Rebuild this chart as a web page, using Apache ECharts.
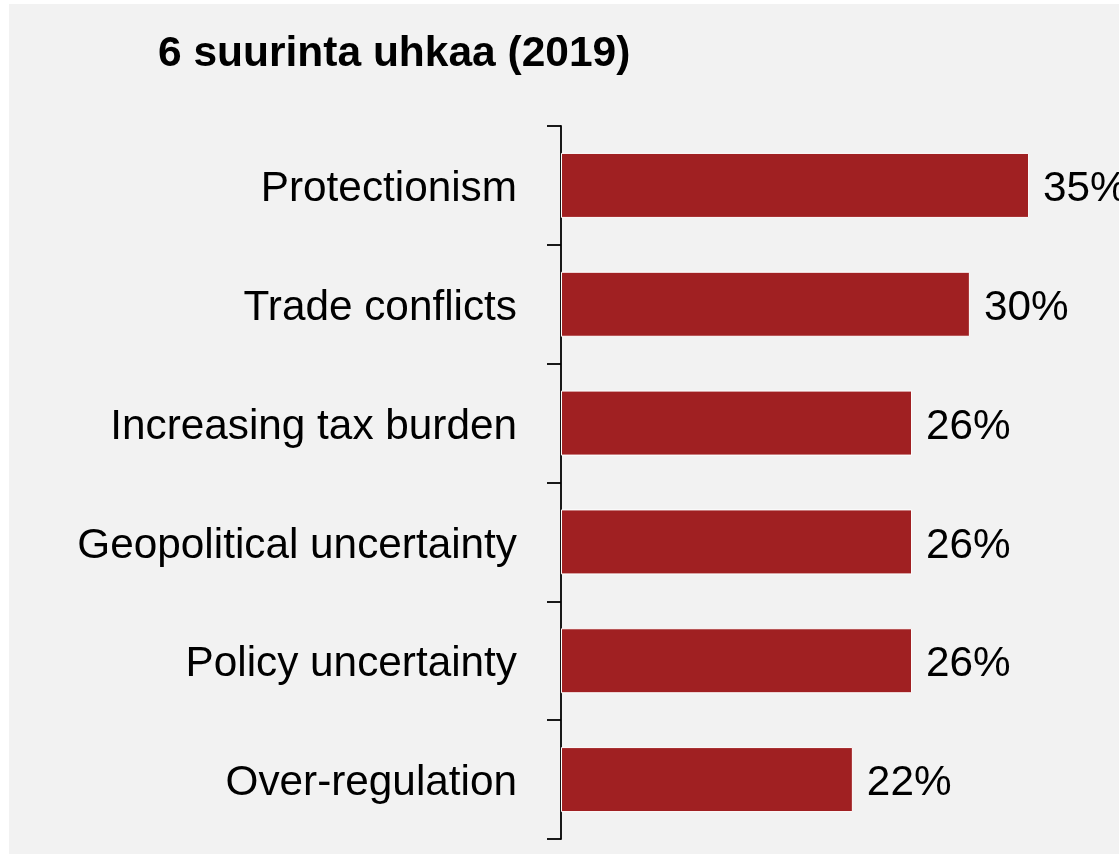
<!DOCTYPE html>
<html>
<head>
<meta charset="utf-8">
<script src="https://cdn.jsdelivr.net/npm/echarts@6/dist/echarts.min.js"></script>
<style>
  html, body { margin: 0; padding: 0; background: #ffffff; }
  #chart { position: absolute; left: 9px; top: 4px; width: 1110px; height: 850px; background: #f2f2f2; }
</style>
</head>
<body>
<div id="chart"></div>
<script>
// 6 suurinta uhkaa (2019)
var categories = [
  "Protectionism",
  "Trade conflicts",
  "Increasing tax burden",
  "Geopolitical uncertainty",
  "Policy uncertainty",
  "Over-regulation"
];
var shares = [34.8, 30.4, 26.1, 26.1, 26.1, 21.7]; // %

var myChart = echarts.init(document.getElementById("chart"));
var font = "'Liberation Sans', Arial, sans-serif";
var option = {
  backgroundColor: "#f2f2f2",
  title: {
    text: "6 suurinta uhkaa (2019)",
    left: 149,
    top: 29,
    padding: 0,
    textStyle: { fontFamily: font, fontSize: 42.5, fontWeight: "bold", color: "#000" }
  },
  grid: {
    left: 552,
    right: 20,
    top: 122,
    bottom: 15,
    containLabel: false
  },
  xAxis: {
    type: "value",
    min: 0,
    max: 40,
    show: false
  },
  yAxis: {
    type: "category",
    inverse: true,
    data: categories,
    axisLine: { show: true, lineStyle: { color: "#000", width: 1.8 } },
    axisTick: { show: true, length: 14, lineStyle: { color: "#000", width: 1.8 } },
    axisLabel: {
      margin: 44,
      fontFamily: font,
      fontSize: 42.3,
      color: "#000",
      verticalAlign: "top",
      lineHeight: 8
    },
    splitLine: { show: false }
  },
  series: [
    {
      type: "bar",
      data: shares,
      barWidth: 65,
      itemStyle: { color: "#a02022", borderColor: "#ffffff", borderWidth: 1 },
      label: {
        show: true,
        position: "right",
        distance: 14,
        offset: [0, 4],
        fontFamily: font,
        fontSize: 42.3,
        color: "#000",
        formatter: function (p) { return Math.round(p.value) + "%"; }
      }
    }
  ]
};
myChart.setOption(option);
</script>
</body>
</html>
